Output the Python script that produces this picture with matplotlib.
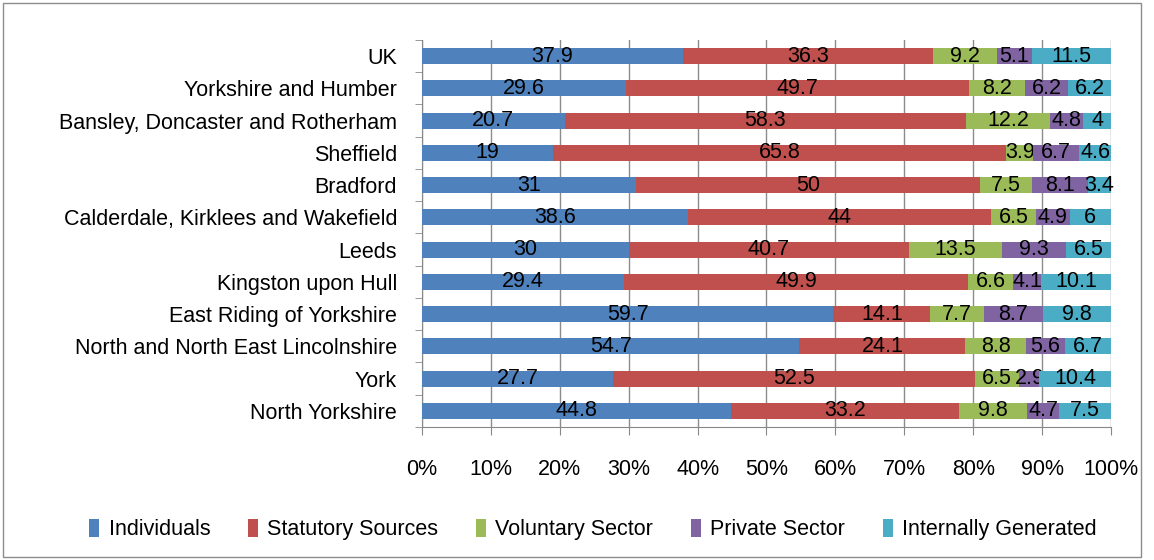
import matplotlib

matplotlib.use("Agg")
import matplotlib.pyplot as plt
import numpy as np
from matplotlib.patches import Rectangle

regions = [
    "UK",
    "Yorkshire and Humber",
    "Bansley, Doncaster and Rotherham",
    "Sheffield",
    "Bradford",
    "Calderdale, Kirklees and Wakefield",
    "Leeds",
    "Kingston upon Hull",
    "East Riding of Yorkshire",
    "North and North East Lincolnshire",
    "York",
    "North Yorkshire",
]
series = ["Individuals", "Statutory Sources", "Voluntary Sector", "Private Sector", "Internally Generated"]

individuals = [37.9, 29.6, 20.7, 19, 31, 38.6, 30, 29.4, 59.7, 54.7, 27.7, 44.8]
statutory = [36.3, 49.7, 58.3, 65.8, 50, 44, 40.7, 49.9, 14.1, 24.1, 52.5, 33.2]
voluntary = [9.2, 8.2, 12.2, 3.9, 7.5, 6.5, 13.5, 6.6, 7.7, 8.8, 6.5, 9.8]
private = [5.1, 6.2, 4.8, 6.7, 8.1, 4.9, 9.3, 4.1, 8.7, 5.6, 2.9, 4.7]
internal = [11.5, 6.2, 4, 4.6, 3.4, 6, 6.5, 10.1, 9.8, 6.7, 10.4, 7.5]

colors = ["#4F81BD", "#C0504D", "#9BBB59", "#8064A2", "#4BACC6"]
FS = 15.5

plt.rcParams["font.family"] = ["Liberation Sans", "DejaVu Sans"]

fig = plt.figure(figsize=(11.54, 5.6), dpi=100)
ax = fig.add_axes([0.3657, 0.2375, 0.5970, 0.6911])

data = np.array([individuals, statutory, voluntary, private, internal], dtype=float)
pct = data / data.sum(axis=0) * 100
ypos = np.arange(len(regions))[::-1]
left = np.zeros(len(regions))
for i, name in enumerate(series):
    bars = ax.barh(ypos, pct[i], left=left, height=0.5, color=colors[i], label=name, zorder=3)
    labels = [f"{v:g}" for v in data[i]]
    ax.bar_label(bars, labels=labels, label_type="center", fontsize=FS, color="black")
    left += pct[i]

ax.set_xlim(0, 100)
ax.set_ylim(-0.5, len(regions) - 0.5)
ax.set_yticks(ypos)
ax.set_yticklabels(regions, fontsize=FS)
ax.set_yticks(np.arange(-0.5, len(regions), 1), minor=True)
ax.tick_params(axis="y", which="major", length=0, pad=18)
ax.tick_params(axis="y", which="minor", length=5, color="#888888")
ax.set_xticks(np.arange(0, 101, 10))
ax.set_xticklabels([f"{t}%" for t in range(0, 101, 10)], fontsize=FS)
ax.tick_params(axis="x", length=6, color="#888888", pad=17)
ax.grid(axis="x", color="#8c8c8c", lw=1, zorder=0)
for s in ["top", "right"]:
    ax.spines[s].set_visible(False)
for s in ["left", "bottom"]:
    ax.spines[s].set_color("#888888")

fig.legend(loc="center", bbox_to_anchor=(0.514, 0.054), ncol=5, frameon=False, fontsize=FS,
           handlelength=0.45, handleheight=0.9, handletextpad=0.45, columnspacing=1.75)

fig.patches.append(Rectangle((0.003, 0.005), 0.986, 0.99, transform=fig.transFigure,
                             fill=False, ec="#8c8c8c", lw=1))

fig.savefig("out.png", dpi=100)
